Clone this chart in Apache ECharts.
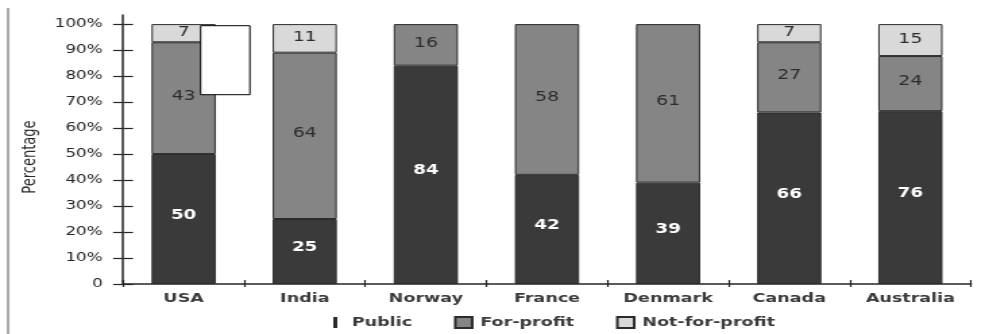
<!DOCTYPE html>
<html><head><meta charset="utf-8">
<script src="https://cdn.jsdelivr.net/npm/echarts@6/dist/echarts.min.js"></script>
<style>
html,body{margin:0;padding:0;background:#fff;overflow:hidden;width:989px;height:334px}
#c{width:733px;height:334px;transform:scaleX(1.34925);transform-origin:0 0;}
</style>
</head><body><div id="c"></div>
<script>
// Countries
const categories = ['USA', 'India', 'Norway', 'France', 'Denmark', 'Canada', 'Australia'];
// Segment heights as drawn in the picture (%)
const publicShare = [50, 25, 84, 42, 39, 66, 66.5];
const forProfitShare = [43, 64, 16, 58, 61, 27, 21.2];
const notForProfitShare = [7, 11, null, null, null, 7, 12.3];
// Numbers printed on the segments
const publicLabels = ['50', '25', '84', '42', '39', '66', '76'];
const forProfitLabels = ['43', '64', '16', '58', '61', '27', '24'];
const notForProfitLabels = ['7', '11', '', '', '', '7', '15'];
// Y axis ticks
const yTicks = [0, 10, 20, 30, 40, 50, 60, 70, 80, 90, 100];
const yTickLabels = ['0', '10%', '20%', '30%', '40%', '50%', '60%', '70%', '80%', '90%', '100%'];

const FONT = 'DejaVu Sans';
const NARROW = "'Liberation Sans Narrow', 'DejaVu Sans Condensed', 'Liberation Sans', sans-serif";
const chart = echarts.init(document.getElementById('c'), null, {renderer: 'canvas'});

const axisColor = '#262626';
const border = '#2b2b2b';

function seg(name, data, labels, color, labelColor, bold, size, offY) {
  return {
    name: name, type: 'bar', stack: 'total', barWidth: '53%',
    xAxisIndex: 0, yAxisIndex: 0,
    data: data,
    itemStyle: {color: color, borderColor: border, borderWidth: 1},
    label: {
      show: true, position: 'inside', offset: [0, offY],
      formatter: p => labels[p.dataIndex],
      color: labelColor, fontFamily: FONT, fontSize: size,
      fontWeight: bold ? 'bold' : 'normal'
    },
    emphasis: {disabled: true}
  };
}

chart.setOption({
  animation: false,
  backgroundColor: '#fff',
  grid: {left: 91.2, right: 13.4, top: 15, bottom: 50, containLabel: false},
  legend: {
    left: 242, top: 311,
    itemWidth: 12.5, itemHeight: 11, itemGap: 31,
    textStyle: {fontFamily: FONT, fontSize: 13, fontWeight: 'bold', color: '#3a3a3a', padding: [0, 0, 0, 1]},
    data: [
      {name: 'Public', icon: 'path://M0,0h3v11h-3z', itemStyle: {color: '#2b2b2b', borderWidth: 0}},
      {name: 'For-profit', icon: 'rect'},
      {name: 'Not-for-profit', icon: 'rect'}
    ]
  },
  xAxis: [{
    type: 'category', data: categories, position: 'bottom',
    axisLine: {lineStyle: {color: axisColor, width: 1.5}},
    axisTick: {show: true, length: 3, lineStyle: {color: axisColor, width: 1.2}},
    axisLabel: {fontFamily: FONT, fontSize: 13, fontWeight: 'bold', color: '#3a3a3a', margin: 8},
    splitLine: {show: false}
  }, {
    type: 'category', data: categories, position: 'bottom',
    axisLine: {show: false},
    axisTick: {show: true, inside: true, length: 4, lineStyle: {color: axisColor, width: 1.2}},
    axisLabel: {show: false},
    splitLine: {show: false}
  }],
  yAxis: [{
    type: 'value', min: 0, max: 103.5, position: 'left',
    name: 'Percentage', nameLocation: 'middle', nameGap: 55,
    nameTextStyle: {fontFamily: NARROW, fontSize: 14.5, color: '#2a2a2a', padding: [0, 15, 0, 0]},
    axisLine: {show: true, lineStyle: {color: axisColor, width: 1.5}},
    axisTick: {show: true, length: 7.4, customValues: yTicks, lineStyle: {color: axisColor, width: 1.2}},
    axisLabel: {
      customValues: yTicks, margin: 15,
      formatter: v => yTickLabels[yTicks.indexOf(v)],
      fontFamily: FONT, fontSize: 12.5, color: '#262626'
    },
    splitLine: {show: false}
  }, {
    type: 'value', min: 0, max: 103.5, position: 'left',
    axisLine: {show: false},
    axisTick: {show: true, inside: true, length: 7.4, customValues: yTicks, lineStyle: {color: axisColor, width: 1.2}},
    axisLabel: {show: false},
    splitLine: {show: false}
  }],
  series: [
    seg('Public', publicShare, publicLabels, '#3a3a3a', '#ffffff', true, 13.5, -4),
    seg('For-profit', forProfitShare, forProfitLabels, '#858585', '#2c2c2c', false, 14, -2),
    seg('Not-for-profit', notForProfitShare, notForProfitLabels, '#d9d9d9', '#2c2c2c', false, 14, -1)
  ],
  graphic: [
    {type: 'line', shape: {x1: 6, y1: 8, x2: 6, y2: 334}, style: {stroke: '#8c8c8c', lineWidth: 1.5}, z: 10},
    {type: 'rect', shape: {x: 148.7, y: 25.7, width: 36.5, height: 69}, style: {fill: '#fff', stroke: '#000', lineWidth: 1}, z: 100}
  ]
});
</script>
</body></html>
